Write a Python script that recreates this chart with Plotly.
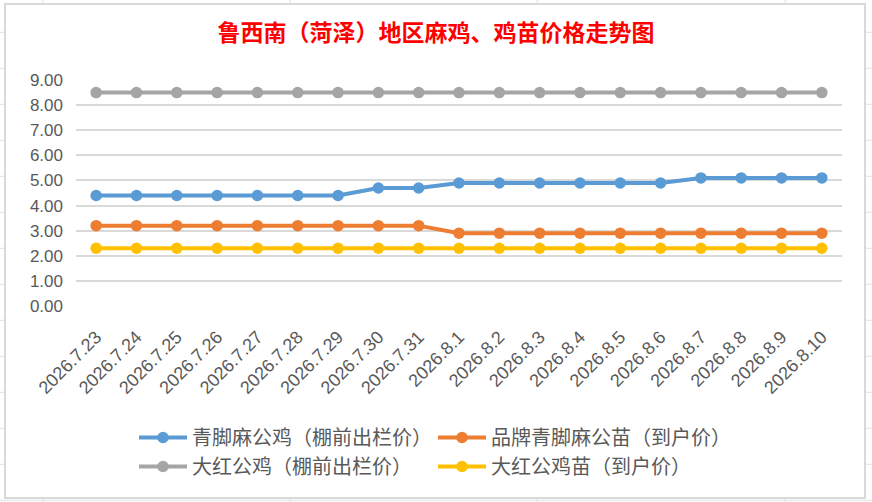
import plotly.graph_objects as go

dates = ["2026.7.23", "2026.7.24", "2026.7.25", "2026.7.26", "2026.7.27", "2026.7.28",
         "2026.7.29", "2026.7.30", "2026.7.31", "2026.8.1", "2026.8.2", "2026.8.3",
         "2026.8.4", "2026.8.5", "2026.8.6", "2026.8.7", "2026.8.8", "2026.8.9", "2026.8.10"]

qingjiao_gongji = [4.4, 4.4, 4.4, 4.4, 4.4, 4.4, 4.4, 4.7, 4.7, 4.9, 4.9, 4.9, 4.9, 4.9, 4.9, 5.1, 5.1, 5.1, 5.1]
pinpai_gongmiao = [3.2, 3.2, 3.2, 3.2, 3.2, 3.2, 3.2, 3.2, 3.2, 2.9, 2.9, 2.9, 2.9, 2.9, 2.9, 2.9, 2.9, 2.9, 2.9]
dahong_gongji = [8.5] * 19
dahong_gongjimiao = [2.3] * 19

series_names = ["青脚麻公鸡（棚前出栏价）", "品牌青脚麻公苗（到户价）",
                "大红公鸡（棚前出栏价）", "大红公鸡苗（到户价）"]
series_values = [qingjiao_gongji, pinpai_gongmiao, dahong_gongji, dahong_gongjimiao]
series_colors = ["#5B9BD5", "#ED7D31", "#A5A5A5", "#FFC000"]

title_text = "鲁西南（菏泽）地区麻鸡、鸡苗价格走势图"

W, H = 872, 502
L, R, T, B = 76, 30, 80, 196
pw, ph = W - L - R, H - T - B

def px(x):
    return (x - L) / pw

def py(y):
    return (H - B - y) / ph

fig = go.Figure()
for name, vals, col in zip(series_names, series_values, series_colors):
    fig.add_trace(go.Scatter(
        x=dates, y=vals, name=name, mode="lines+markers",
        line=dict(color=col, width=4),
        marker=dict(color=col, size=11.5),
    ))

shapes = []
# spreadsheet grid behind chart
for k in range(14):
    yy = 32.3 + 36 * k
    shapes.append(dict(type="line", xref="paper", yref="paper", layer="below",
                       x0=px(0), x1=px(W), y0=py(yy), y1=py(yy),
                       line=dict(color="#e2e2e2", width=1)))
for xx in [43, 290, 537, 785]:
    shapes.append(dict(type="line", xref="paper", yref="paper", layer="below",
                       x0=px(xx), x1=px(xx), y0=py(0), y1=py(H),
                       line=dict(color="#e2e2e2", width=1)))
# chart area
shapes.append(dict(type="rect", xref="paper", yref="paper", layer="below",
                   x0=px(5), x1=px(865), y0=py(4), y1=py(498),
                   fillcolor="white", line=dict(color="#d9d9d9", width=2)))

fig.update_layout(
    width=W, height=H,
    margin=dict(l=L, r=R, t=T, b=B, autoexpand=False),
    paper_bgcolor="white",
    plot_bgcolor="rgba(0,0,0,0)",
    shapes=shapes,
    title=dict(text="<b>" + title_text + "</b>", x=0.5, xref="container", xanchor="center",
               y=1 - 33 / H, yref="container", yanchor="middle",
               font=dict(family="Noto Sans CJK SC", size=23, color="#FF0000")),
    xaxis=dict(type="category", range=[-0.5, 18.5], tickangle=-45,
               showgrid=False, zeroline=False, showline=False,
               ticks="", ticklabelstandoff=16,
               tickfont=dict(family="Liberation Sans", size=18, color="#595959")),
    yaxis=dict(range=[0, 9], dtick=1, tickformat=".2f",
               showgrid=True, gridcolor="#d9d9d9", gridwidth=1.5,
               zeroline=False, showline=False, ticks="", ticklabelstandoff=12,
               tickfont=dict(family="Liberation Sans", size=17, color="#595959")),
    legend=dict(orientation="h", x=px(134), xanchor="left", y=py(418), yanchor="top",
                entrywidth=236, itemwidth=48, traceorder="normal",
                bgcolor="rgba(0,0,0,0)",
                font=dict(family="Noto Sans CJK SC", size=20, color="#595959")),
    showlegend=True,
)

fig.write_html("out.html", config={"displayModeBar": False},
               post_script="document.body.style.margin='0';document.body.style.padding='0';document.body.style.overflow='hidden';")
